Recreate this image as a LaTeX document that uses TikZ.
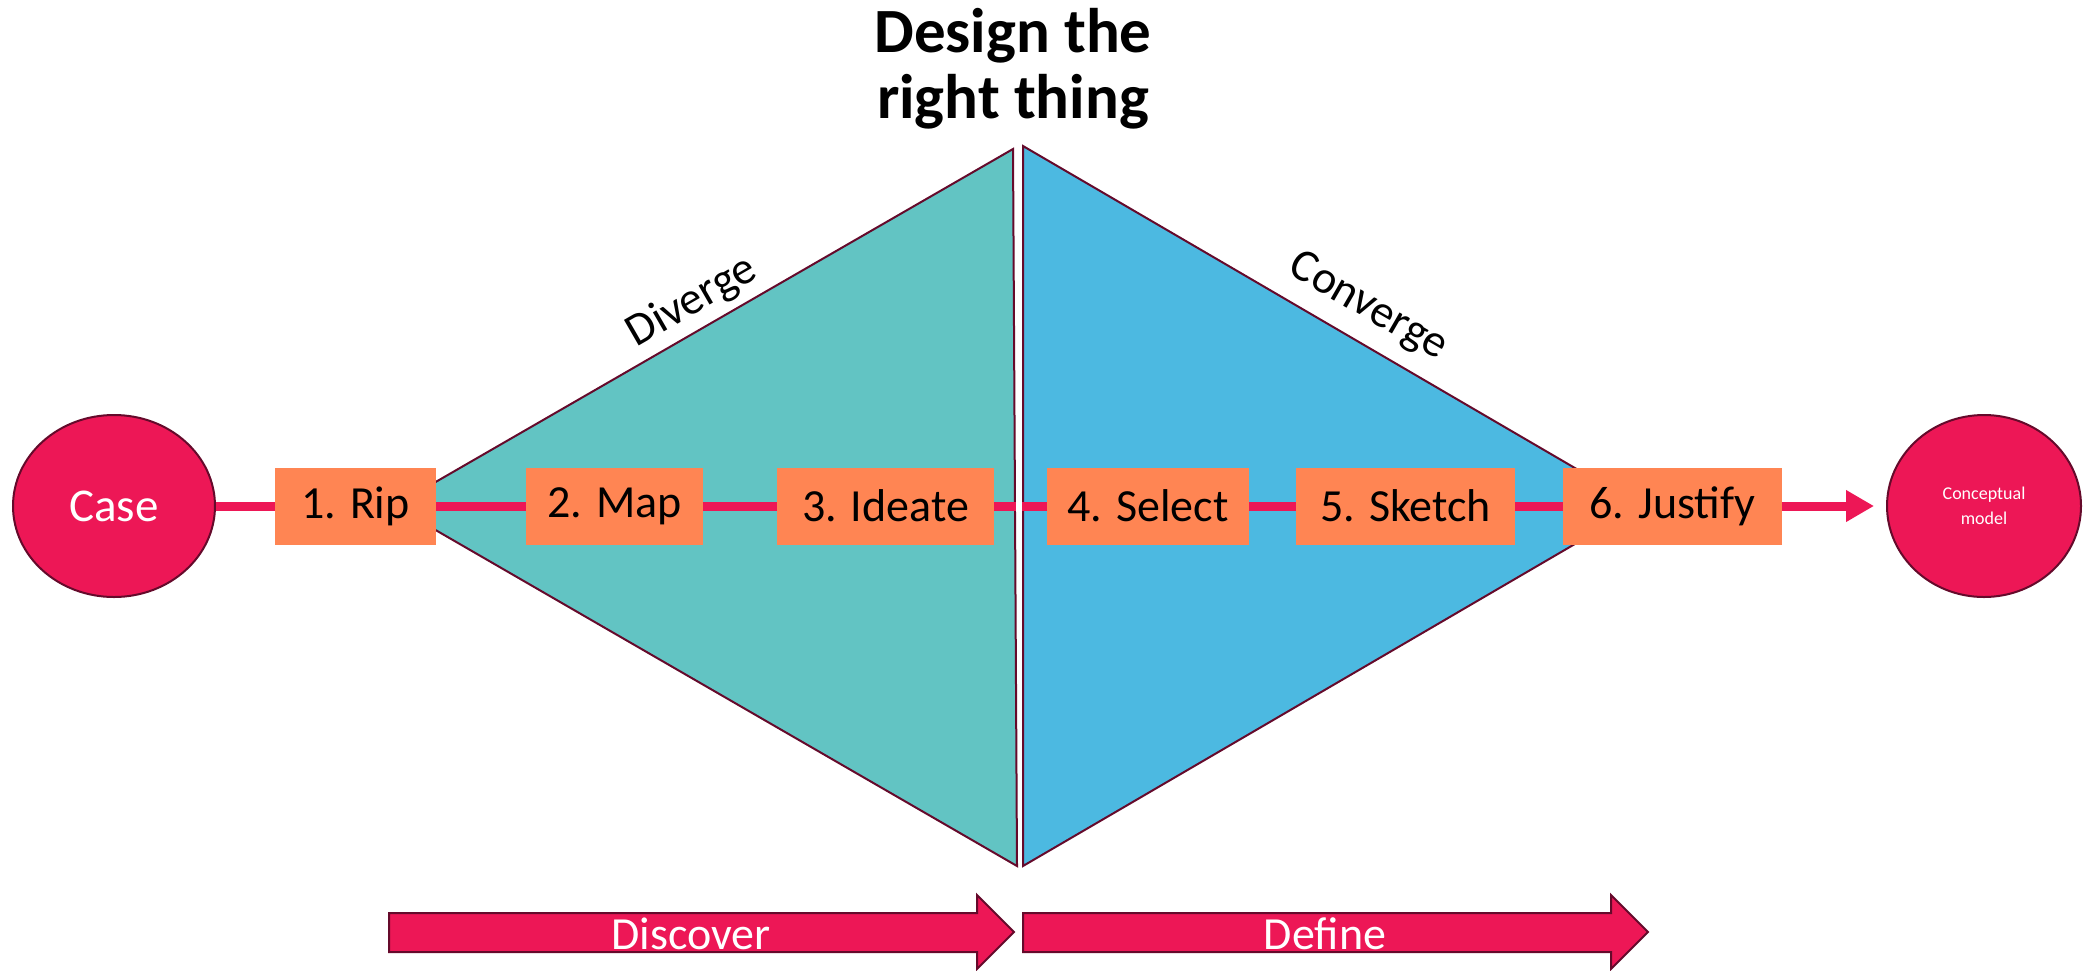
\documentclass[tikz,border=0pt]{standalone}
\usepackage{fontspec}
\setmainfont{Carlito}
\usetikzlibrary{arrows.meta,shapes.geometric}
\definecolor{cpink}{HTML}{ED1756}
\definecolor{corange}{HTML}{FF8553}
\definecolor{cteal}{HTML}{62C4C3}
\definecolor{cblue}{HTML}{4CB9E1}
\definecolor{cmaroon}{HTML}{650A2B}
\begin{document}
\begin{tikzpicture}[x=1pt,y=-1pt,
  endpoint/.style={ellipse, draw=cmaroon, line width=2pt, fill=cpink, text=white, inner sep=0pt},
  stepbox/.style={rectangle, fill=corange, minimum height=77pt, inner sep=0pt, font=\fontsize{46}{50}\selectfont},
  flow/.style={draw=cpink, line width=9pt},
  phase/.style={fill=cpink, draw=cmaroon, line width=2pt},
  tri/.style={draw=cmaroon, line width=2pt, line join=miter},
  phaselabel/.style={text=white, inner sep=0pt, font=\fontsize{46}{50}\selectfont},
  sidelabel/.style={inner sep=0pt, font=\fontsize{46}{50}\selectfont},
  titlefont/.style={inner sep=0pt, font=\bfseries\fontsize{63}{66}\selectfont}]
\useasboundingbox (0,0) rectangle (2084,970);

% diamond halves
\draw[tri, fill=cteal] (394,506) -- (1013,149) -- (1017,866) -- cycle;
\draw[tri, fill=cblue] (1023,146) -- (1640,506) -- (1023,866) -- cycle;

% title
\node[titlefont, anchor=base] (title1) at (1013,52) {Design the};
\node[titlefont, anchor=base] (title2) at (1013,118) {right thing};

% side labels
\node[sidelabel, rotate=30] (diverge) at (692,302) {Diverge};
\node[sidelabel, rotate=-30] (converge) at (1368,307) {Converge};

% end points
\node[endpoint, minimum width=202pt, minimum height=182pt, font=\fontsize{47}{50}\selectfont] (case) at (114,506) {Case};
\node[endpoint, minimum width=194pt, minimum height=182pt, align=center, font=\fontsize{18}{25}\selectfont] (cm) at (1984,506) {Conceptual\\model};

% steps
\node[stepbox, minimum width=161pt] (b1) at (355.5,506) {1. Rip};
\node[stepbox, minimum width=177pt] (b2) at (614.5,506) {2. Map};
\node[stepbox, minimum width=217pt] (b3) at (885.5,506) {3. Ideate};
\node[stepbox, minimum width=202pt] (b4) at (1148,506) {4. Select};
\node[stepbox, minimum width=219pt] (b5) at (1405.5,506) {5. Sketch};
\node[stepbox, minimum width=219pt] (b6) at (1672.5,506) {6. Justify};

% connectors
\draw[flow] (case) -- (b1);
\draw[flow] (b1) -- (b2);
\draw[flow] (b2) -- (b3);
\draw[flow] (b3) -- (b4);
\draw[flow, -{Triangle[length=28pt,width=30pt]}, shorten >=12pt] (b6) -- (cm);
\draw[flow] (b4) -- (b5);
\draw[flow] (b5) -- (b6);
\fill[white] (1016.2,500) rectangle (1021.8,512);

% phase arrows
\draw[phase] (389,913) -- (977,913) -- (977,895) -- (1014,932) -- (977,969) -- (977,952) -- (389,952) -- cycle;
\draw[phase] (1023,913) -- (1611,913) -- (1611,895) -- (1648,932) -- (1611,969) -- (1611,952) -- (1023,952) -- cycle;
\node[phaselabel] (discover) at (691,934) {Discover};
\node[phaselabel] (define) at (1325,934) {Define};
\end{tikzpicture}
\end{document}
